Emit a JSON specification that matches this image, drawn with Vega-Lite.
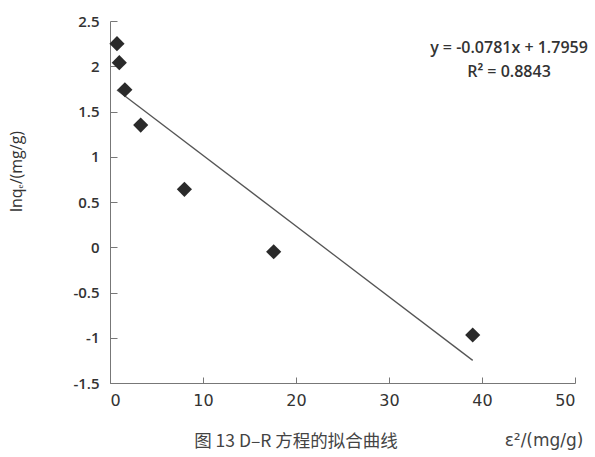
{
  "$schema": "https://vega.github.io/schema/vega-lite/v6.json",
  "width": 465,
  "height": 362,
  "autosize": "none",
  "padding": {"left": 110, "top": 21, "right": 20, "bottom": 74},
  "background": "white",
  "config": {"view": {"stroke": null}},
  "datasets": {
    "points": [
      {"e2": 0.75, "lnqe": 2.25},
      {"e2": 1.0, "lnqe": 2.04},
      {"e2": 1.6, "lnqe": 1.74},
      {"e2": 3.3, "lnqe": 1.35},
      {"e2": 8.0, "lnqe": 0.64},
      {"e2": 17.6, "lnqe": -0.05},
      {"e2": 39.0, "lnqe": -0.97}
    ],
    "fit": [
      {"e2": 0.75, "lnqe": 1.7373},
      {"e2": 39.0, "lnqe": -1.2500}
    ],
    "labels": [
      {"e2": 42.9, "lnqe": 2.2, "text": "y = -0.0781x + 1.7959"},
      {"e2": 42.9, "lnqe": 1.94, "text": "R² = 0.8843"}
    ],
    "caption": [
      {"e2": 20.0, "lnqe": -2.15, "text": "图 13  D–R 方程的拟合曲线"}
    ]
  },
  "encoding": {
    "x": {
      "field": "e2",
      "type": "quantitative",
      "scale": {"domain": [0, 50], "nice": false, "zero": false},
      "axis": {
        "values": [0, 10, 20, 30, 40, 50],
        "grid": false,
        "domainColor": "#777",
        "tickColor": "#777",
        "tickSize": -6,
        "labelPadding": 15,
        "labelFont": "DejaVu Sans",
        "labelFontSize": 16,
        "labelColor": "#333",
        "title": "ε²/(mg/g)",
        "titleFont": "DejaVu Sans",
        "titleFontSize": 17,
        "titleFontWeight": "normal",
        "titleColor": "#444",
        "titleAlign": "right",
        "titleBaseline": "middle",
        "titleX": 473,
        "titleY": 57
      }
    },
    "y": {
      "field": "lnqe",
      "type": "quantitative",
      "scale": {"domain": [-1.5, 2.5], "nice": false, "zero": false},
      "axis": {
        "values": [-1.5, -1, -0.5, 0, 0.5, 1, 1.5, 2, 2.5],
        "labelExpr": "toString(datum.value)",
        "grid": false,
        "domainColor": "#777",
        "tickColor": "#777",
        "tickSize": -7,
        "labelPadding": 18,
        "labelFont": "Open Sans",
        "labelFontSize": 15,
        "labelFontWeight": 600,
        "labelColor": "#333",
        "title": "lnqₑ/(mg/g)",
        "titleFont": "Open Sans",
        "titleFontSize": 16,
        "titleFontWeight": "normal",
        "titleColor": "#333",
        "titleAngle": -90,
        "titleAlign": "center",
        "titleBaseline": "middle",
        "titleX": -94,
        "titleY": 150
      }
    }
  },
  "layer": [
    {
      "data": {"name": "fit"},
      "mark": {"type": "line", "color": "#555", "strokeWidth": 1.3}
    },
    {
      "data": {"name": "points"},
      "mark": {"type": "point", "shape": "diamond", "filled": true, "size": 230, "color": "#2a2a2a", "opacity": 1}
    },
    {
      "data": {"name": "labels"},
      "mark": {"type": "text", "font": "Open Sans", "fontSize": 16, "fontWeight": 600, "color": "#333", "align": "center", "baseline": "middle"},
      "encoding": {"text": {"field": "text"}}
    },
    {
      "data": {"name": "caption"},
      "mark": {"type": "text", "font": "Noto Sans CJK SC", "fontSize": 17.5, "fontWeight": "normal", "color": "#444", "align": "center", "baseline": "middle", "clip": false},
      "encoding": {"text": {"field": "text"}}
    }
  ]
}
